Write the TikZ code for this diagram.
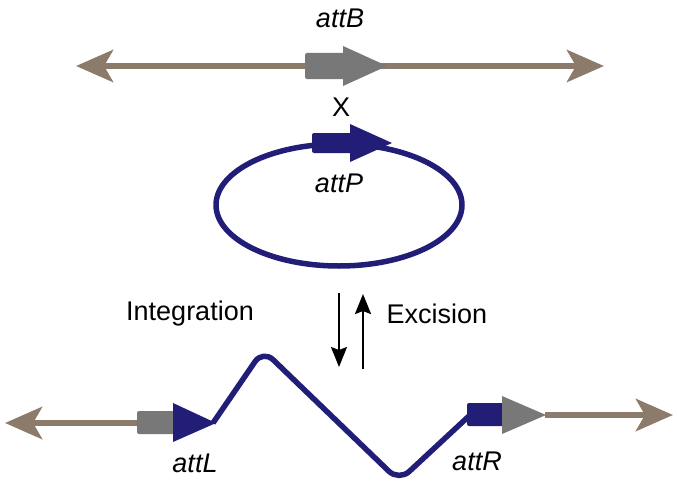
\documentclass[tikz,border=0pt]{standalone}
\usepackage{fontspec}
\setmainfont{Liberation Sans}
\usepackage{xcolor}
\definecolor{ColDNA}{RGB}{140,122,106}
\definecolor{ColGray}{RGB}{120,120,120}
\definecolor{ColNavy}{RGB}{34,30,120}
\usepackage{tikz}
\usetikzlibrary{arrows.meta}
\tikzset{ChromTip/.tip={Stealth[length=37pt,width=32pt,inset=9pt]}}
\tikzstyle{Chrom}=[draw=ColDNA,line width=6.5pt]
\tikzstyle{Phage}=[draw=ColNavy,line width=5.5pt,line join=round,rounded corners=14pt]
\tikzstyle{Site}=[font=\fontsize{27}{31}\selectfont\itshape]
\tikzstyle{Word}=[font=\fontsize{27}{31}\selectfont]
\tikzstyle{Step}=[draw=black,-{Stealth[length=20pt,width=16pt,inset=3pt]}]

\begin{document}
\begin{tikzpicture}[x=1pt,y=-1pt]
    \useasboundingbox (0,0) rectangle (677,487);
        % attB on the chromosome
        \coordinate(bL)at(76,66);
        \coordinate(bR)at(604,66);
        \draw[Chrom,ChromTip-ChromTip](bL)--(bR);
        \fill[ColGray,rounded corners=2pt](305,53)rectangle(348,79);
        \fill[ColGray](343,46)--(387,66)--(343,86)--cycle;
        \node[Site](attB)at(340,18){attB};
        \node[Word](x)at(341,107){X};
        % attP on the phage circle
        \draw[Phage,rounded corners=0pt](339,205)ellipse[x radius=123,y radius=61];
        \fill[ColNavy,rounded corners=2pt](312,133)rectangle(354,153);
        \fill[ColNavy](350,124)--(392,143)--(350,162)--cycle;
        \node[Site](attP)at(339,183){attP};
        % integration / excision
        \coordinate(i1)at(339,293);
        \coordinate(i2)at(339,367);
        \coordinate(e1)at(363,369);
        \coordinate(e2)at(363,294);
        \draw[Step,line width=1.6pt](i1)--(i2);
        \draw[Step,line width=2.4pt](e1)--(e2);
        \node[Word](int)at(190,314){Integration};
        \node[Word](exc)at(437,314){Excision};
        % attL and attR after integration
        \coordinate(lL)at(5,423);
        \coordinate(lB)at(140,423);
        \coordinate(rB)at(545,415);
        \coordinate(rR)at(673,415);
        \draw[Chrom,ChromTip-](lL)--(lB);
        \draw[Chrom,-ChromTip](rB)--(rR);
        \coordinate(w0)at(213,423);
        \coordinate(w1)at(263,350);
        \coordinate(w2)at(399,481);
        \coordinate(w3)at(469,416);
        \draw[Phage](w0)--(w1)--(w2)--(w3);
        \fill[ColGray,rounded corners=2pt](137,411)rectangle(177,434);
        \fill[ColNavy](173,403)--(216,423)--(173,442)--cycle;
        \fill[ColNavy,rounded corners=2pt](467,403)rectangle(506,426);
        \fill[ColGray](502,396)--(546,415)--(502,434)--cycle;
        \node[Site](attL)at(195,463){attL};
        \node[Site](attR)at(477,461){attR};
    \end{tikzpicture}
\end{document}
